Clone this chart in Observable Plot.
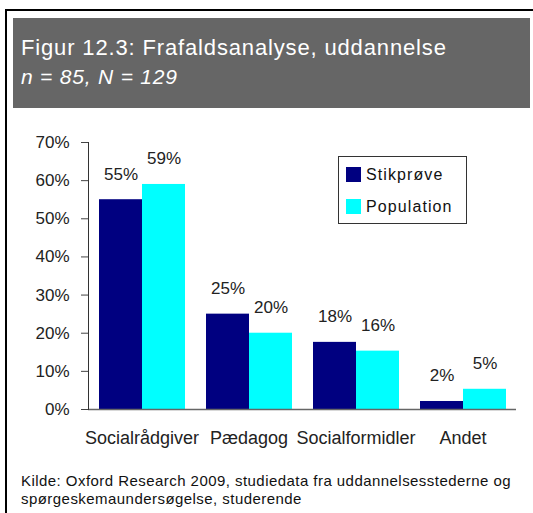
<!DOCTYPE html>
<html>
<head>
<meta charset="utf-8">
<script src="https://cdn.jsdelivr.net/npm/d3@7"></script>
<script src="https://cdn.jsdelivr.net/npm/@observablehq/plot@0.6"></script>
<style>
  html, body { margin:0; padding:0; background:#fff; }
  body { width:533px; height:513px; position:relative; overflow:hidden; font-family:"Liberation Sans", Arial, sans-serif; }
  #frame { position:absolute; left:5px; top:9px; width:540px; height:520px; border-left:2px solid #000; border-top:2px solid #000; }
  #header { position:absolute; left:13px; top:18px; width:517px; height:90px; background:#666666; }
  #title { position:absolute; left:21px; top:36px; color:#fff; font-size:22px; line-height:24px; letter-spacing:0.85px; white-space:nowrap; }
  #subtitle { position:absolute; left:21px; top:65px; color:#fff; font-size:21px; line-height:24px; font-style:italic; letter-spacing:0.8px; white-space:nowrap; }
  #chart { position:absolute; left:0; top:120px; }
  #legend { position:absolute; left:338px; top:156px; width:127px; height:66px; border:1px solid #333; background:#fff; }
  .li { position:absolute; left:7px; font-size:16px; color:#111; white-space:nowrap; line-height:18px; letter-spacing:1.1px; }
  .sw { display:inline-block; width:15px; height:15px; vertical-align:-2px; margin-right:5px; }
  #caption { position:absolute; left:21px; top:472px; font-size:15px; line-height:18px; color:#111; letter-spacing:0.45px; white-space:nowrap; }
</style>
</head>
<body>
<div id="frame"></div>
<div id="header"></div>
<div id="title">Figur 12.3: Frafaldsanalyse, uddannelse</div>
<div id="subtitle">n = 85, N = 129</div>
<div id="chart"></div>
<div id="legend"></div>
<div id="caption">Kilde: Oxford Research 2009, studiedata fra uddannelsesstederne og<br>spørgeskemaundersøgelse, studerende</div>
<script>
const categories = ["Socialrådgiver", "Pædagog", "Socialformidler", "Andet"];
const series = ["Stikprøve", "Population"];
const stikproeve = [55, 25, 17.6, 2.1];
const population = [59, 20, 15.3, 5.3];
const stikproeveLabels = ["55%", "25%", "18%", "2%"];
const populationLabels = ["59%", "20%", "16%", "5%"];
const yTicks = [0, 10, 20, 30, 40, 50, 60, 70];
const colors = ["#000080", "#00FFFF"];

const data = [];
categories.forEach((c, i) => {
  data.push({cat: c, series: series[0], value: stikproeve[i], label: stikproeveLabels[i]});
  data.push({cat: c, series: series[1], value: population[i], label: populationLabels[i]});
});

const chart = Plot.plot({
  width: 533,
  height: 340,
  marginTop: 22,
  marginBottom: 51,
  marginLeft: 87,
  marginRight: 16,
  style: {fontFamily: "'Liberation Sans', Arial, sans-serif", background: "transparent", color: "#222"},
  fx: {domain: categories, paddingInner: 0, paddingOuter: 0, label: null},
  x: {domain: series, paddingInner: 0, paddingOuter: 0.22, axis: null},
  y: {domain: [0, 70], label: null},
  color: {domain: series, range: colors},
  marks: [
    Plot.barY(data, {fx: "cat", x: "series", y: "value", fill: "series"}),
    Plot.text(data, {fx: "cat", x: "series", y: "value", text: "label", lineAnchor: "bottom", dy: -20, fontSize: 17, fill: "#222", style: "letter-spacing:0.5px"}),
    Plot.ruleY([0], {stroke: "#666", strokeWidth: 1.5}),
    Plot.frame({anchor: "left", facetAnchor: "left", stroke: "#333"}),
    Plot.axisY(yTicks, {anchor: "left", tickSize: 7, tickPadding: 12, tickFormat: d => d + "%", fontSize: 17, stroke: "#444", fill: "#222", label: null}),
    Plot.axisFx({anchor: "bottom", tickSize: 0, tickPadding: 22, fontSize: 18, fill: "#222", label: null})
  ]
});
document.getElementById("chart").appendChild(chart);

const legend = document.getElementById("legend");
series.forEach((s, i) => {
  const row = document.createElement("div");
  row.className = "li";
  row.style.top = (9 + i * 32) + "px";
  const sw = document.createElement("span");
  sw.className = "sw";
  sw.style.background = colors[i];
  row.appendChild(sw);
  row.appendChild(document.createTextNode(s));
  legend.appendChild(row);
});
</script>
</body>
</html>
